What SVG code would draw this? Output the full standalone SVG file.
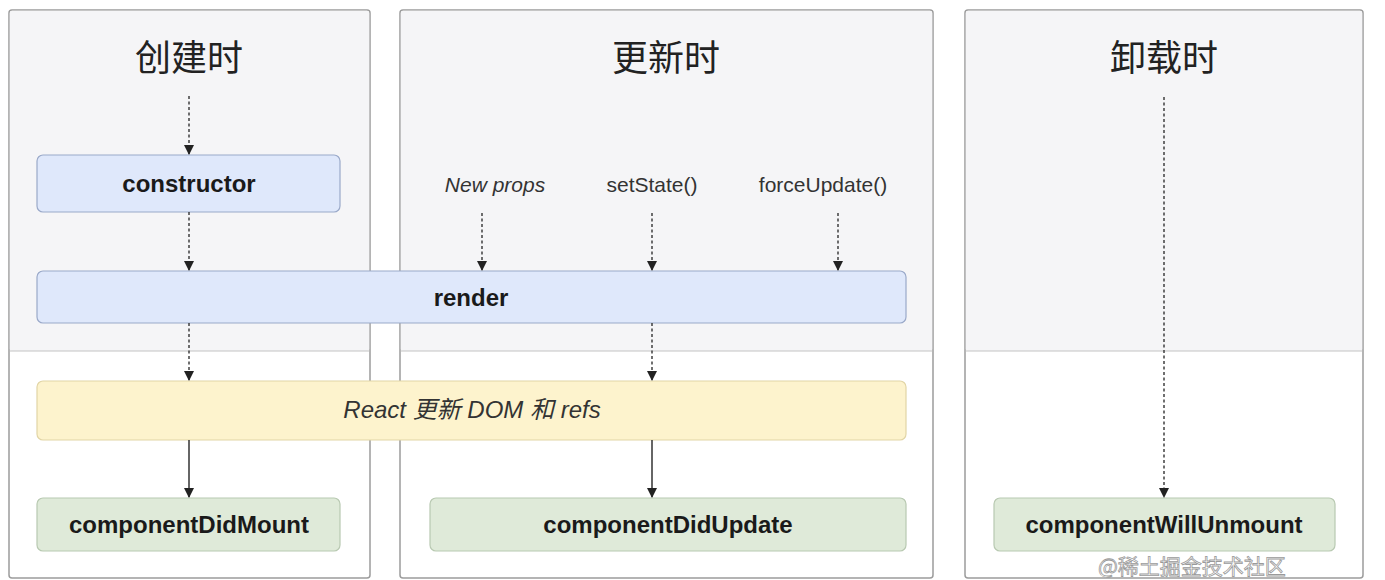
<svg xmlns="http://www.w3.org/2000/svg" width="1385" height="580" viewBox="0 0 1385 580">
<defs>
<style>
.panel{fill:#ffffff;stroke:#9c9c9c;stroke-width:1.5}
.top{fill:#f5f5f7}
.div{stroke:#c4c4c4;stroke-width:1.2}
.title{font-family:"Noto Sans CJK SC","Liberation Sans",sans-serif;font-size:36px;fill:#222;text-anchor:middle}
.blue{fill:#dfe8fb;stroke:#9aa9c9;stroke-width:1.2}
.yellow{fill:#fdf3cd;stroke:#e2d5a6;stroke-width:1.2}
.green{fill:#dfead9;stroke:#b8c9b1;stroke-width:1.2}
.lbl{font-family:"Liberation Sans","Noto Sans CJK SC",sans-serif;font-size:24px;font-weight:bold;fill:#1a1a1a;text-anchor:middle}
.small{font-family:"Liberation Sans","Noto Sans CJK SC",sans-serif;font-size:21px;fill:#333;text-anchor:middle}
.react{font-family:"Liberation Sans","Noto Sans CJK SC",sans-serif;font-size:24px;font-style:italic;fill:#333;text-anchor:middle}
.it{font-style:italic}
.dash{stroke:#333;stroke-width:1.4;stroke-dasharray:3 2.5;fill:none}
.solid{stroke:#333;stroke-width:1.5;fill:none}
.wm{font-family:"Noto Sans CJK SC","Liberation Sans",sans-serif;font-size:21px;fill:#ffffff;stroke:#9a9a9a;stroke-width:0.8}
</style>
<marker id="ah" viewBox="0 0 10 10" refX="9" refY="5" markerWidth="10" markerHeight="10" markerUnits="userSpaceOnUse" orient="auto">
<path d="M0,0 L10,5 L0,10 z" fill="#222"/>
</marker>
</defs>
<rect width="1385" height="580" fill="#ffffff"/>

<g id="panel-create">
<rect class="panel" x="9" y="10" width="361" height="568" rx="3"/>
<rect class="top" x="9.8" y="10.8" width="359.4" height="340.2" rx="2"/>
<line class="div" x1="9.8" y1="351" x2="369.2" y2="351"/>
<text class="title" x="189" y="71">创建时</text>
</g>
<g id="panel-update">
<rect class="panel" x="400" y="10" width="533" height="568" rx="3"/>
<rect class="top" x="400.8" y="10.8" width="531.4" height="340.2" rx="2"/>
<line class="div" x1="400.8" y1="351" x2="932.2" y2="351"/>
<text class="title" x="666" y="71">更新时</text>
</g>
<g id="panel-unmount">
<rect class="panel" x="965" y="10" width="398" height="568" rx="3"/>
<rect class="top" x="965.8" y="10.8" width="396.4" height="340.2" rx="2"/>
<line class="div" x1="965.8" y1="351" x2="1362.2" y2="351"/>
<text class="title" x="1164" y="71">卸载时</text>
</g>

<g id="labels">
<text class="small it" x="495" y="192">New props</text>
<text class="small" x="652" y="192">setState()</text>
<text class="small" x="823" y="192">forceUpdate()</text>
</g>

<g id="node-constructor">
<rect class="blue" x="37" y="155" width="303" height="57" rx="6"/>
<text class="lbl" x="189" y="191.5">constructor</text>
</g>
<g id="node-render">
<rect class="blue" x="37" y="271" width="869" height="52" rx="6"/>
<text class="lbl" x="471" y="305.5">render</text>
</g>
<g id="node-react">
<rect class="yellow" x="37" y="381" width="869" height="59" rx="6"/>
<text class="react" x="472" y="418">React 更新 DOM 和 refs</text>
</g>
<g id="node-didmount">
<rect class="green" x="37" y="498" width="303" height="53" rx="6"/>
<text class="lbl" x="189" y="532.5">componentDidMount</text>
</g>
<g id="node-didupdate">
<rect class="green" x="430" y="498" width="476" height="53" rx="6"/>
<text class="lbl" x="668" y="532.5">componentDidUpdate</text>
</g>
<g id="node-willunmount">
<rect class="green" x="994" y="498" width="341" height="53" rx="6"/>
<text class="lbl" x="1164" y="532.5">componentWillUnmount</text>
</g>

<g id="connectors">
<line class="dash" x1="189" y1="96" x2="189" y2="154" marker-end="url(#ah)"/>
<line class="dash" x1="189" y1="212" x2="189" y2="270" marker-end="url(#ah)"/>
<line class="dash" x1="189" y1="323" x2="189" y2="380" marker-end="url(#ah)"/>
<line class="solid" x1="189" y1="440" x2="189" y2="497" marker-end="url(#ah)"/>
<line class="dash" x1="482" y1="213" x2="482" y2="270" marker-end="url(#ah)"/>
<line class="dash" x1="652" y1="213" x2="652" y2="270" marker-end="url(#ah)"/>
<line class="dash" x1="838" y1="213" x2="838" y2="270" marker-end="url(#ah)"/>
<line class="dash" x1="652" y1="323" x2="652" y2="380" marker-end="url(#ah)"/>
<line class="solid" x1="652" y1="440" x2="652" y2="497" marker-end="url(#ah)"/>
<line class="dash" x1="1164" y1="97" x2="1164" y2="497" marker-end="url(#ah)"/>
</g>

<text class="wm" x="1098" y="574">@稀土掘金技术社区</text>
</svg>
